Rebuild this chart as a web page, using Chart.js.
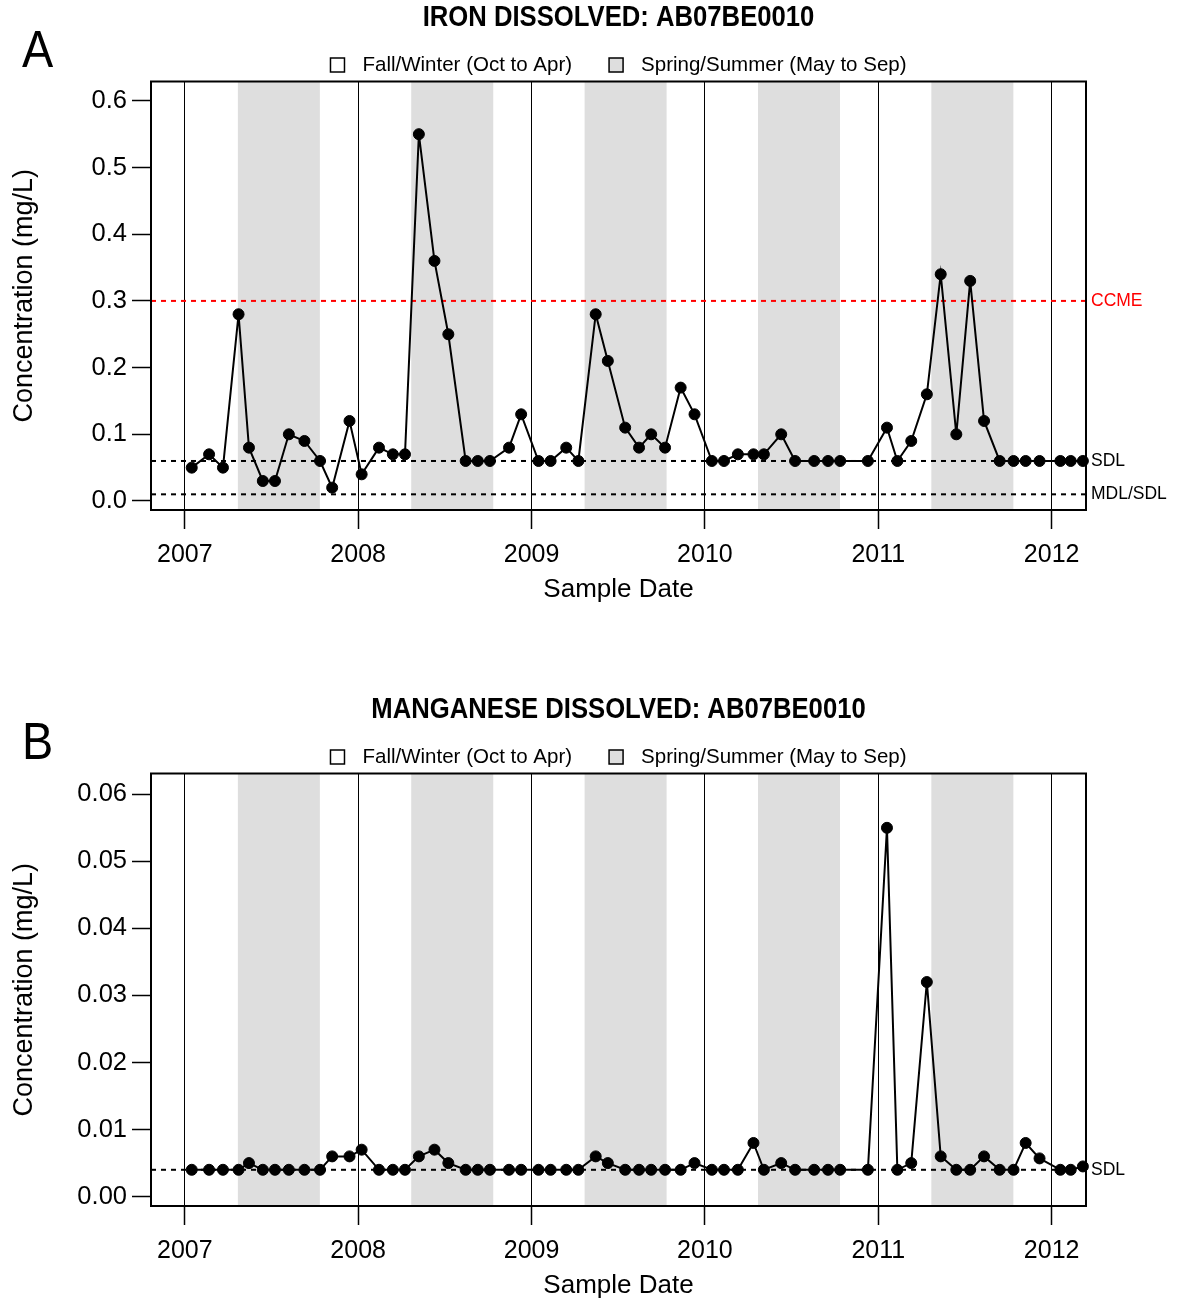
<!DOCTYPE html>
<html>
<head>
<meta charset="utf-8">
<title>AB07BE0010 dissolved metals</title>
<script src="https://cdn.jsdelivr.net/npm/chart.js@4.4.1/dist/chart.umd.min.js"></script>
<style>
    body { margin: 0; background: #fff; }
    .panel { position: absolute; left: 0; width: 1182px; }
    #ironBox { top: 0; height: 650px; }
    #mnBox { top: 692px; height: 611px; }
</style>
</head>
<body>
<div class="panel" id="ironBox"><canvas id="iron"></canvas></div>
<div class="panel" id="mnBox"><canvas id="manganese"></canvas></div>
<script>
// sample dates as decimal years
var sampleDates = [
    2007.04, 2007.14, 2007.22, 2007.31, 2007.37, 2007.45, 2007.52, 2007.60, 2007.69, 2007.78, 2007.85, 2007.95,
    2008.02, 2008.12, 2008.20, 2008.27, 2008.35, 2008.44, 2008.52, 2008.62, 2008.69, 2008.76, 2008.87, 2008.94,
    2009.04, 2009.11, 2009.20, 2009.27, 2009.37, 2009.44, 2009.54, 2009.62, 2009.69, 2009.77, 2009.86, 2009.94,
    2010.04, 2010.11, 2010.19, 2010.28, 2010.34, 2010.44, 2010.52, 2010.63, 2010.71, 2010.78, 2010.94,
    2011.05, 2011.11, 2011.19, 2011.28, 2011.36, 2011.45, 2011.53, 2011.61, 2011.70, 2011.78, 2011.85, 2011.93,
    2012.05, 2012.11, 2012.18
];
var ironValues = [
    0.05, 0.07, 0.05, 0.28, 0.08, 0.03, 0.03, 0.10, 0.09, 0.06, 0.02, 0.12,
    0.04, 0.08, 0.07, 0.07, 0.55, 0.36, 0.25, 0.06, 0.06, 0.06, 0.08, 0.13,
    0.06, 0.06, 0.08, 0.06, 0.28, 0.21, 0.11, 0.08, 0.10, 0.08, 0.17, 0.13,
    0.06, 0.06, 0.07, 0.07, 0.07, 0.10, 0.06, 0.06, 0.06, 0.06, 0.06,
    0.11, 0.06, 0.09, 0.16, 0.34, 0.10, 0.33, 0.12, 0.06, 0.06, 0.06, 0.06,
    0.06, 0.06, 0.06
];
var manganeseValues = [
    0.004, 0.004, 0.004, 0.004, 0.005, 0.004, 0.004, 0.004, 0.004, 0.004, 0.006, 0.006,
    0.007, 0.004, 0.004, 0.004, 0.006, 0.007, 0.005, 0.004, 0.004, 0.004, 0.004, 0.004,
    0.004, 0.004, 0.004, 0.004, 0.006, 0.005, 0.004, 0.004, 0.004, 0.004, 0.004, 0.005,
    0.004, 0.004, 0.004, 0.008, 0.004, 0.005, 0.004, 0.004, 0.004, 0.004, 0.004,
    0.055, 0.004, 0.005, 0.032, 0.006, 0.004, 0.004, 0.006, 0.004, 0.004, 0.008, 0.0057,
    0.004, 0.004, 0.0045
];

var yearTicks = [2007, 2008, 2009, 2010, 2011, 2012];
var ironTicks = [0, 0.1, 0.2, 0.3, 0.4, 0.5, 0.6];
var manganeseTicks = [0, 0.01, 0.02, 0.03, 0.04, 0.05, 0.06];

// spring/summer sampling season
var summerStart = [2007.306, 2008.306, 2009.306, 2010.306, 2011.306];
var summerEnd = [2007.779, 2008.779, 2009.779, 2010.779, 2011.779];
var seasonLabels = ['Fall/Winter (Oct to Apr)', 'Spring/Summer (May to Sep)'];

// guideline / detection limits
var ironLimitValues = [0.3, 0.06, 0.01];
var ironLimitLabels = ['CCME', 'SDL', 'MDL/SDL'];
var manganeseLimitValues = [0.004];
var manganeseLimitLabels = ['SDL'];

var sans = '"Liberation Sans", Arial, Helvetica, sans-serif';
var shade = '#dedede';

function panelPlugin(letter, title, limitValues, limitLabels) {
    return {
        id: 'panel' + letter,
        beforeDraw: function (chart) {
            var ctx = chart.ctx, area = chart.chartArea, xs = chart.scales.x;
            ctx.save();
            ctx.fillStyle = shade;
            summerStart.forEach(function (start, i) {
                var x0 = xs.getPixelForValue(start);
                var x1 = xs.getPixelForValue(summerEnd[i]);
                ctx.fillRect(x0, area.top, x1 - x0, area.bottom - area.top);
            });
            ctx.restore();
        },
        beforeDatasetsDraw: function (chart) {
            var ctx = chart.ctx, area = chart.chartArea, ys = chart.scales.y;
            ctx.save();
            ctx.lineWidth = 2;
            ctx.setLineDash([5, 5]);
            limitValues.forEach(function (v, i) {
                var y = ys.getPixelForValue(v);
                ctx.strokeStyle = limitLabels[i] === 'CCME' ? '#ff0000' : '#000';
                ctx.beginPath();
                ctx.moveTo(area.left, y);
                ctx.lineTo(area.right, y);
                ctx.stroke();
            });
            ctx.restore();
        },
        afterDraw: function (chart) {
            var ctx = chart.ctx, area = chart.chartArea, ys = chart.scales.y;
            var cx = (area.left + area.right) / 2;
            ctx.save();
            // plot frame
            ctx.strokeStyle = '#000';
            ctx.lineWidth = 2;
            ctx.strokeRect(area.left, area.top, area.right - area.left, area.bottom - area.top);

            // limit labels in the right margin
            ctx.font = '17.5px ' + sans;
            ctx.textBaseline = 'middle';
            ctx.textAlign = 'left';
            limitValues.forEach(function (v, i) {
                ctx.fillStyle = limitLabels[i] === 'CCME' ? '#ff0000' : '#000';
                ctx.fillText(limitLabels[i], area.right + 5, ys.getPixelForValue(v));
            });

            // condensed bold title
            ctx.save();
            ctx.fillStyle = '#000';
            ctx.font = 'bold 29px ' + sans;
            ctx.textAlign = 'center';
            ctx.translate(cx, 18);
            ctx.scale(0.885, 1);
            ctx.fillText(title, 0, 0);
            ctx.restore();

            // season legend, centred over the plot
            ctx.font = '20.5px ' + sans;
            var box = 14, gap = 18, spacing = 37;
            var w0 = ctx.measureText(seasonLabels[0]).width;
            var w1 = ctx.measureText(seasonLabels[1]).width;
            var total = box + gap + w0 + spacing + box + gap + w1;
            var x = cx - total / 2;
            var y = 65;
            ctx.lineWidth = 1.5;
            ctx.fillStyle = '#fff';
            ctx.fillRect(x, y - box / 2, box, box);
            ctx.strokeRect(x, y - box / 2, box, box);
            ctx.fillStyle = '#000';
            ctx.fillText(seasonLabels[0], x + box + gap, y);
            x += box + gap + w0 + spacing;
            ctx.fillStyle = shade;
            ctx.fillRect(x, y - box / 2, box, box);
            ctx.strokeRect(x, y - box / 2, box, box);
            ctx.fillStyle = '#000';
            ctx.fillText(seasonLabels[1], x + box + gap, y);

            // panel letter
            ctx.save();
            ctx.font = '52px ' + sans;
            ctx.textBaseline = 'alphabetic';
            ctx.translate(22, 67);
            ctx.scale(0.9, 1);
            ctx.fillText(letter, 0, 0);
            ctx.restore();
            ctx.restore();
        }
    };
}

function makeChart(id, opts) {
    return new Chart(document.getElementById(id), {
        type: 'line',
        data: {
            datasets: [{
                data: sampleDates.map(function (d, i) { return { x: d, y: opts.values[i] }; }),
                borderColor: '#000',
                backgroundColor: '#000',
                borderWidth: 2,
                pointRadius: 5.5,
                pointBorderWidth: 1,
                pointBackgroundColor: '#000',
                pointBorderColor: '#000',
                tension: 0,
                clip: 8
            }]
        },
        options: {
            responsive: true,
            maintainAspectRatio: false,
            animation: false,
            devicePixelRatio: 1,
            layout: { padding: { left: 0, right: 96, top: 81.5, bottom: opts.padBottom } },
            plugins: {
                legend: { display: false },
                tooltip: { enabled: false },
                title: { display: false }
            },
            scales: {
                x: {
                    type: 'linear',
                    min: 2006.805,
                    max: 2012.198,
                    afterBuildTicks: function (s) { s.ticks = yearTicks.map(function (v) { return { value: v }; }); },
                    afterFit: function (s) { s.height = opts.xHeight; },
                    ticks: {
                        callback: function (v) { return String(v); },
                        color: '#000',
                        font: { family: sans, size: 25, lineHeight: 1.2 },
                        padding: 11,
                        maxRotation: 0,
                        autoSkip: false
                    },
                    grid: { color: '#000', lineWidth: 1, tickLength: 19, tickWidth: 1.5, tickColor: '#000' },
                    border: { display: false },
                    title: {
                        display: true,
                        text: 'Sample Date',
                        color: '#000',
                        font: { family: sans, size: 26, lineHeight: 1.2 },
                        padding: { top: 0, bottom: opts.xTitlePad }
                    }
                },
                y: {
                    min: opts.yMin,
                    max: opts.yMax,
                    afterBuildTicks: function (s) { s.ticks = opts.ticks.map(function (v) { return { value: v }; }); },
                    afterFit: function (s) { s.width = 151; },
                    ticks: {
                        callback: function (v) { return v.toFixed(opts.decimals); },
                        color: '#000',
                        font: { family: sans, size: 25.5 },
                        padding: 5,
                        autoSkip: false
                    },
                    grid: { drawOnChartArea: false, tickLength: 19, tickWidth: 1.5, tickColor: '#000' },
                    border: { display: false },
                    title: {
                        display: true,
                        text: 'Concentration (mg/L)',
                        color: '#000',
                        font: { family: sans, size: 27, lineHeight: 1.2 },
                        padding: { top: 8.5, bottom: 0 }
                    }
                }
            }
        },
        plugins: [panelPlugin(opts.letter, opts.title, opts.limitValues, opts.limitLabels)]
    });
}

makeChart('iron', {
    title: 'IRON DISSOLVED: AB07BE0010',
    letter: 'A',
    values: ironValues,
    ticks: ironTicks,
    decimals: 1,
    yMin: -0.0135,
    yMax: 0.629,
    limitValues: ironLimitValues,
    limitLabels: ironLimitLabels,
    xHeight: 100,
    padBottom: 40,
    xTitlePad: 4.4
});

makeChart('manganese', {
    title: 'MANGANESE DISSOLVED: AB07BE0010',
    letter: 'B',
    values: manganeseValues,
    ticks: manganeseTicks,
    decimals: 2,
    yMin: -0.0014,
    yMax: 0.0631,
    limitValues: manganeseLimitValues,
    limitLabels: manganeseLimitLabels,
    xHeight: 97,
    padBottom: 0,
    xTitlePad: 1.4
});
</script>
</body>
</html>
